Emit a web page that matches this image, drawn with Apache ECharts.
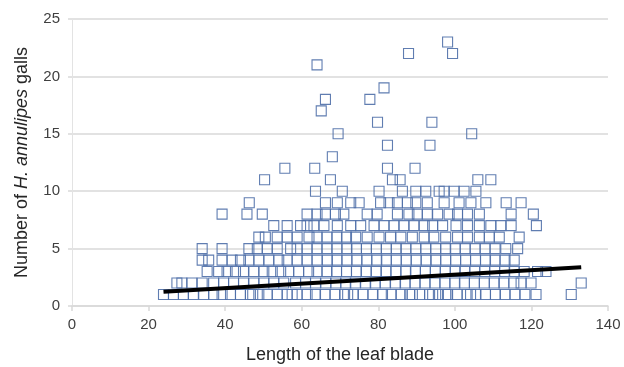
<!DOCTYPE html>
<html>
<head>
<meta charset="utf-8">
<script src="https://cdn.jsdelivr.net/npm/echarts@6/dist/echarts.min.js"></script>
<style>
  html, body { margin: 0; padding: 0; background: #fff; }
  #chart { width: 624px; height: 367px; }
</style>
</head>
<body>
<div id="chart"></div>
<script>
// leaf blade lengths for each gall count (y = 1..10)
const len1 = [23.9, 26.5, 29.1, 31.7, 34.4, 37, 39.2, 41.4, 44, 46.6, 47.2, 48.8, 51, 53.6, 56.2, 57.5, 58.8, 61.4, 63.6, 66.1, 68.7, 71.2, 72, 73.5, 76, 78.6, 81.1, 83.4, 85.9, 88.2, 88.9, 90.8, 93.4, 94.2, 95.7, 97.6, 98.1, 100.6, 103.2, 104.1, 105.5, 108, 110.6, 113.1, 115.7, 118.3, 121.2, 130.4]
const len2 = [27.4, 28.7, 31.3, 34, 37, 39.6, 42.2, 44.8, 47.5, 50.1, 52.7, 55.3, 58.4, 61, 63.6, 66.3, 68.9, 71.5, 74, 76.7, 79.2, 81.8, 84.5, 87, 89.6, 92.2, 94.8, 97.4, 100, 102.5, 105.1, 107.7, 110.3, 112.8, 115.4, 117.3, 119.9, 133]
const len3 = [35.3, 38.3, 40.5, 42.7, 44.8, 47.5, 50.1, 52.3, 54.5, 56.6, 59.2, 61.8, 64, 66.6, 69.1, 71.7, 74.3, 76.8, 79.5, 82, 84.6, 87.2, 89.7, 92.3, 94.9, 97.5, 100.1, 102.6, 105.2, 107.8, 110.4, 113, 115.5, 118.1, 121.6, 123.8]
const len4 = [34, 35.7, 39.2, 41.8, 44, 46.2, 48.8, 51.4, 54, 56.2, 58.8, 61.4, 64, 66.7, 69.2, 71.8, 74.4, 77, 79.6, 82.1, 84.7, 87.3, 89.9, 92.5, 95, 97.6, 100.2, 102.8, 105.4, 108, 110.5, 113.1, 115.5]
const len5 = [34, 39.2, 46.2, 48.4, 51, 53.6, 57.1, 58.8, 61.4, 64, 66.6, 69.2, 71.8, 74.3, 76.9, 79.5, 82.1, 84.7, 87.2, 89.8, 92.4, 95, 97.6, 100.1, 102.7, 105.3, 107.9, 110.5, 113.3, 116.4]
const len6 = [48.8, 50.5, 53.6, 56.2, 58.8, 61.9, 64, 66.6, 69.2, 71.7, 74.1, 77.1, 80.2, 83.2, 85.9, 88.9, 92, 94.5, 97.6, 100.7, 103.3, 106.4, 109, 111.6, 116.8]
const len7 = [52.7, 56.2, 59.7, 61.4, 63.2, 65.8, 69.3, 72.8, 75.4, 78.9, 81.5, 84.1, 86.7, 89.3, 92, 94.2, 96.8, 100.3, 103.3, 106.4, 109.4, 112, 114.7, 121.3]
const len8 = [39.2, 45.7, 49.7, 61.4, 64, 66.2, 68.8, 71, 77.1, 79.7, 85, 88, 90.2, 92.8, 95.5, 98.5, 100.7, 103.3, 106.4, 114.7, 120.5]
const len9 = [46.3, 66.2, 69.3, 72.8, 75, 80.6, 82.8, 85, 87.6, 89.8, 92.8, 97.2, 101.1, 104.2, 108.1, 113.4, 117.3]
const len10 = [63.6, 70.6, 80.2, 86.3, 89.8, 92.4, 95.9, 97.2, 99.8, 102.4, 105.5]

// sparse points above 10 galls: [length, galls]
const upperPoints = [
  [50.3, 11], [67.5, 11], [83.7, 11], [85.7, 11], [106, 11], [109.4, 11],
  [55.6, 12], [63.4, 12], [82.4, 12], [89.6, 12],
  [68, 13],
  [82.4, 14], [93.5, 14],
  [69.5, 15], [104.4, 15],
  [79.8, 16], [94, 16],
  [65.1, 17],
  [66.2, 18], [77.8, 18],
  [81.5, 19],
  [64, 21],
  [87.9, 22], [99.4, 22],
  [98.1, 23]
]

// fitted trend line end points
const trendX = [23.9, 133]
const trendY = [1.25, 3.37]

const lowRows = [len1, len2, len3, len4, len5, len6, len7, len8, len9, len10]
const scatterData = []
lowRows.forEach((row, i) => {
  row.forEach(x => scatterData.push([x, i + 1]))
})
upperPoints.forEach(p => scatterData.push(p))

const font = 'Liberation Sans, Arial, sans-serif'
const chart = echarts.init(document.getElementById('chart'))

const option = {
  animation: false,
  grid: {
    left: 72,
    right: 16,
    top: 19,
    bottom: 61,
    outerBoundsMode: 'none'
  },
  xAxis: {
    type: 'value',
    min: 0,
    max: 140,
    interval: 20,
    name: 'Length of the leaf blade',
    nameLocation: 'middle',
    nameGap: 40,
    nameTextStyle: {
      fontSize: 18,
      color: '#262626',
      fontFamily: font
    },
    axisLine: {
      show: true,
      lineStyle: { color: '#d9d9d9', width: 1.5 }
    },
    axisTick: {
      show: true,
      length: 5,
      lineStyle: { color: '#d9d9d9', width: 1.5 }
    },
    axisLabel: {
      fontSize: 15,
      color: '#404040',
      fontFamily: font,
      margin: 11
    },
    splitLine: { show: false }
  },
  yAxis: {
    type: 'value',
    min: 0,
    max: 25,
    interval: 5,
    name: 'Number of {i|H. annulipes} galls',
    nameLocation: 'middle',
    nameGap: 41,
    nameTextStyle: {
      fontSize: 18,
      color: '#262626',
      fontFamily: font,
      rich: {
        i: {
          fontSize: 18,
          fontStyle: 'italic',
          color: '#262626',
          fontFamily: font
        }
      }
    },
    axisLine: {
      show: true,
      lineStyle: { color: '#e3e3e3', width: 1 }
    },
    axisTick: {
      show: true,
      length: 4,
      lineStyle: { color: '#d9d9d9', width: 1.5 }
    },
    axisLabel: {
      fontSize: 15,
      color: '#404040',
      fontFamily: font,
      margin: 12
    },
    splitLine: {
      show: true,
      lineStyle: { color: '#d9d9d9', width: 1.5 }
    }
  },
  series: [
    {
      type: 'scatter',
      symbol: 'rect',
      symbolSize: 10,
      itemStyle: {
        color: 'rgba(255,255,255,0)',
        borderColor: '#4f6fa8',
        borderWidth: 1.1,
        opacity: 0.9
      },
      data: scatterData
    },
    {
      type: 'line',
      symbol: 'none',
      z: 5,
      lineStyle: { color: '#000', width: 4 },
      data: trendX.map((x, i) => [x, trendY[i]])
    }
  ]
}
chart.setOption(option)
</script>
</body>
</html>
